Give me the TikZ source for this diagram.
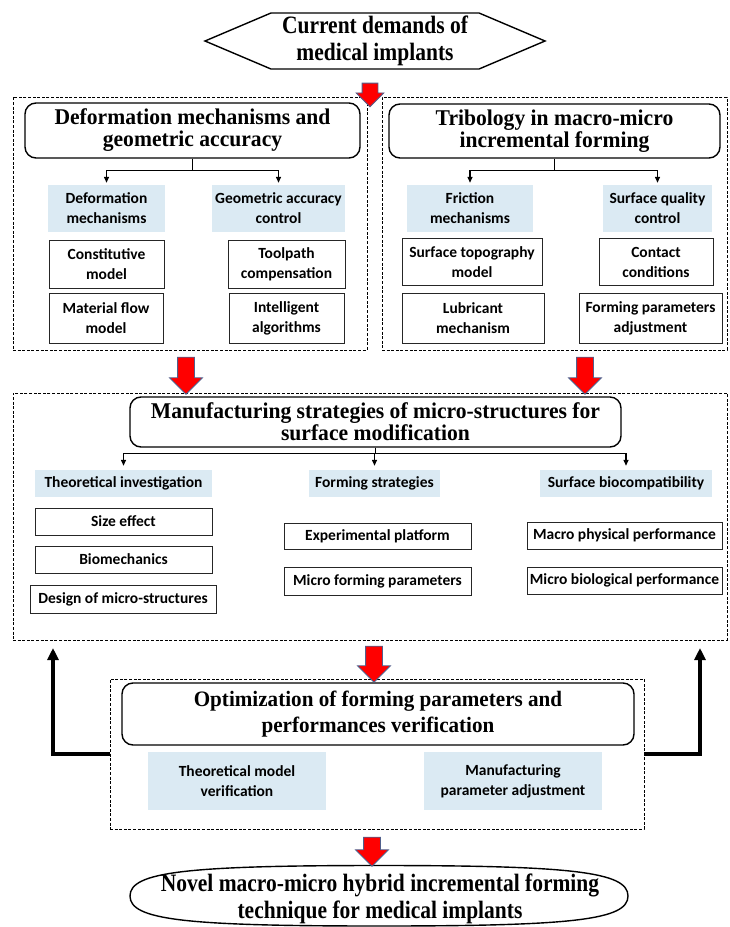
\documentclass[tikz,border=0pt]{standalone}
\usepackage{fontspec}
\newfontfamily\titlefont[FakeStretch=0.96]{Liberation Serif}
\newfontfamily\narrowfont[FakeStretch=0.86]{Liberation Serif}
\newfontfamily\boxfont{Carlito}
\usetikzlibrary{shapes.symbols,shapes.arrows,shapes.geometric,arrows.meta}
\definecolor{paleblue}{RGB}{219,234,243}
\definecolor{arrowedge}{RGB}{80,96,140}

\begin{document}
\begin{tikzpicture}[x=1pt,y=-1pt,
  panel/.style={draw, line width=0.9pt, dash pattern=on 3pt off 1.6pt},
  title/.style={draw, line width=1.4pt, rounded corners=11pt, align=center, inner sep=0pt, font=\titlefont\bfseries\fontsize{22.5}{22}\selectfont},
  tallfont/.style={font=\narrowfont\bfseries\fontsize{25}{27.5}\selectfont},
  topic/.style={fill=paleblue, align=center, inner sep=0pt, font=\boxfont\bfseries\fontsize{15.5}{20}\selectfont},
  item/.style={draw=black!85, line width=1pt, align=center, inner sep=0pt, font=\boxfont\bfseries\fontsize{15.5}{20}\selectfont},
  boxsize/.style 2 args={minimum width=#1pt, minimum height=#2pt},
  redarrow/.style={single arrow, shape border rotate=270, fill=red, draw=arrowedge, line width=0.8pt, inner sep=8pt, single arrow head extend=8pt, single arrow head indent=0pt, minimum height=#1pt},
  branch/.style={line width=1.3pt, shorten >=2pt, -{Triangle[length=6pt,width=5pt]}},
  feedback/.style={line width=3.2pt, -{Triangle[length=12pt,width=11pt]}}]
\useasboundingbox (0,0) rectangle (729,927);

\node[signal, signal to=west and east, signal pointer angle=46, draw, line width=1.4pt, align=center, inner sep=0pt, boxsize={340}{56}, tallfont] (demand) at (375,41) {Current demands of\\medical implants};

\node[panel, boxsize={354}{253}] (panL) at (190,223.5) {};
\node[panel, boxsize={345}{253}] (panR) at (554.5,223.5) {};
\node[panel, boxsize={714}{247}] (panM) at (370,516.5) {};
\node[panel, boxsize={534}{150}] (panO) at (377,754) {};

\node[title, boxsize={335}{55}] (tL) at (192.5,130.5) {Deformation mechanisms and\\geometric accuracy};
\node[title, boxsize={331}{54}] (tR) at (554.5,131) {Tribology in macro-micro\\incremental forming};
\node[title, boxsize={491}{50}] (tM) at (375.5,422) {Manufacturing strategies of micro-structures for\\surface modification};
\node[title, boxsize={512}{62}, font=\titlefont\bfseries\fontsize{22}{26}\selectfont] (tO) at (378,714) {Optimization of forming parameters and\\performances verification};

\node[topic, boxsize={117}{47}] (bDM) at (106.5,208.5) {Deformation\\mechanisms};
\node[topic, boxsize={133}{47}] (bGA) at (278.5,208.5) {Geometric accuracy\\control};
\node[topic, boxsize={126}{47}] (bFM) at (470,208.5) {Friction\\mechanisms};
\node[topic, boxsize={109}{47}] (bSQ) at (657.5,208.5) {Surface quality\\control};

\node[item, boxsize={115}{48}] (wCM) at (106.5,264) {Constitutive\\model};
\node[item, boxsize={117}{48}] (wTC) at (286.5,264) {Toolpath\\compensation};
\node[item, boxsize={114}{50}] (wMF) at (106,318) {Material flow\\model};
\node[item, boxsize={115}{50}] (wIA) at (286.5,318) {Intelligent\\algorithms};
\node[item, boxsize={140}{47}] (wST) at (472,262) {Surface topography\\model};
\node[item, boxsize={114}{47}] (wCC) at (656,262) {Contact\\conditions};
\node[item, boxsize={142}{50}] (wLM) at (473,318) {Lubricant\\mechanism};
\node[item, boxsize={143}{50}] (wFP) at (650.5,318) {Forming parameters\\adjustment};

\node[topic, boxsize={177}{27}] (bTI) at (123.5,483.5) {Theoretical investigation};
\node[topic, boxsize={131}{27}] (bFS) at (374.5,483.5) {Forming strategies};
\node[topic, boxsize={172}{27}] (bSB) at (626,483.5) {Surface biocompatibility};

\node[item, boxsize={177}{27}] (wSE) at (123.5,521.5) {Size effect};
\node[item, boxsize={177}{27}] (wBM) at (123.5,559.5) {Biomechanics};
\node[item, boxsize={186}{28}] (wDS) at (123,599) {Design of micro-structures};
\node[item, boxsize={187}{26}] (wEP) at (377.5,536) {Experimental platform};
\node[item, boxsize={187}{28}] (wMP) at (377.5,581) {Micro forming parameters};
\node[item, boxsize={195}{27}] (wPP) at (624.5,535.5) {Macro physical performance};
\node[item, boxsize={195}{27}] (wBP) at (624.5,580.5) {Micro biological performance};

\node[topic, boxsize={178}{58}] (bTM) at (237,781) {Theoretical model\\verification};
\node[topic, boxsize={178}{58}] (bMA) at (513,781) {Manufacturing\\parameter adjustment};

\node[align=center, inner sep=0pt, tallfont] (novel) at (380,899) {Novel macro-micro hybrid incremental forming\\technique for medical implants};
\draw[line width=1.4pt] (130,896) .. controls (130,872) and (185,865.5) .. (379,865.5)
  .. controls (573,865.5) and (628,872) .. (628,896)
  .. controls (628,920) and (573,926) .. (379,926)
  .. controls (185,926) and (130,920) .. (130,896) -- cycle;

\draw[branch] (tL.south) -- ++(0,12) -| (bDM.north);
\draw[branch] (tL.south) -- ++(0,12) -| (bGA.north);
\draw[branch] (tR.south) -- ++(0,12) -| (bFM.north);
\draw[branch] (tR.south) -- ++(0,12) -| (bSQ.north);
\draw[branch, shorten >=4pt] (tM.south) -- ++(0,6) -| (bTI.north);
\draw[branch, shorten >=4pt] (tM.south) -- ++(0,6) -| (bFS.north);
\draw[branch, shorten >=4pt] (tM.south) -- ++(0,6) -| (bSB.north);

\coordinate (fbL) at (53,648);
\coordinate (fbR) at (700,648);
\draw[feedback] (panO.west) -| (fbL);
\draw[feedback] (panO.east) -| (fbR);

\node[redarrow=21, inner sep=7.5pt, single arrow head extend=6pt] (a1) at (370,91) {};
\node[redarrow=37] (a2) at (186,371.5) {};
\node[redarrow=37] (a3) at (585,371.5) {};
\node[redarrow=36] (a4) at (374,660) {};
\node[redarrow=29] (a5) at (372,847.5) {};
\end{tikzpicture}
\end{document}
